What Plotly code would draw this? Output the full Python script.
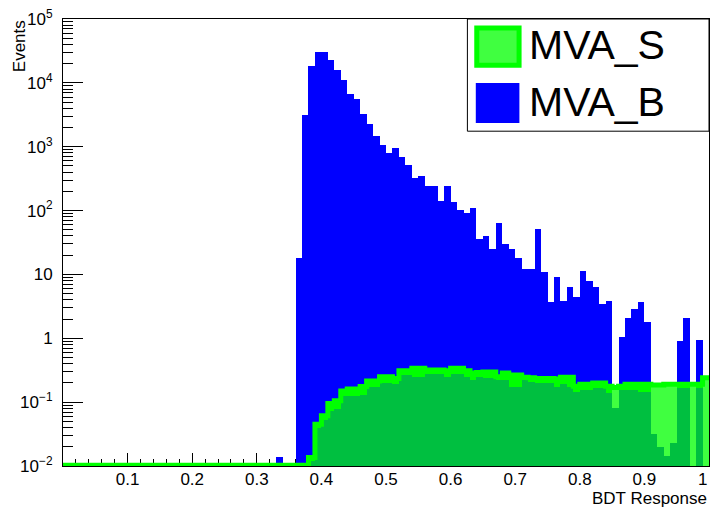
import numpy as np
import plotly.graph_objects as go

# 100 bins of BDT response on [0, 1]
edges = np.linspace(0.0, 1.0, 101)
centers = 0.5 * (edges[:-1] + edges[1:])

# Background (MVA_B) bin contents
bkg = [0.0] * 33 + [
    0.014, 0.0, 0.0, 17.8, 3100, 18200, 30500, 30500, 23200, 16100,
    11000, 6800, 5500, 3230, 2310, 1480, 1070, 790, 940, 690,
    510, 320, 350, 240, 240, 140, 244, 134, 101, 93,
    108, 36, 40, 24.6, 63, 30.5, 24.6, 17.8, 12.0, 12.2,
    51, 10.9, 3.65, 9.2, 3.8, 6.3, 4.5, 11.4, 7.9, 6.4,
    3.5, 3.9, 0.08, 1.05, 2.1, 2.9, 3.7, 1.8, 0.032, 0.02,
    0.0143, 0.0226, 0.9, 2.05, 0.0, 0.94, 0.0,
]

# Signal (MVA_S) bin contents
sig = [0.0] * 38 + [
    0.0136, 0.045, 0.061, 0.095, 0.105, 0.15, 0.16, 0.16, 0.175, 0.215,
    0.215, 0.25, 0.25, 0.235, 0.31, 0.31, 0.34, 0.34, 0.32, 0.32,
    0.32, 0.31, 0.34, 0.34, 0.31, 0.285, 0.29, 0.296, 0.296, 0.25,
    0.285, 0.265, 0.265, 0.245, 0.24, 0.235, 0.235, 0.235, 0.23, 0.245,
    0.245, 0.178, 0.19, 0.19, 0.2, 0.2, 0.178, 0.17, 0.178, 0.19,
    0.19, 0.19, 0.19, 0.185, 0.185, 0.19, 0.19, 0.19, 0.19, 0.19,
    0.19, 0.24,
]

# Inner signal fill level
sig_core = [0.0] * 38 + [
    0.012, 0.039, 0.0525, 0.072, 0.078, 0.123, 0.123, 0.123, 0.13, 0.17,
    0.17, 0.2, 0.2, 0.19, 0.265, 0.265, 0.25, 0.25, 0.275, 0.275,
    0.275, 0.25, 0.275, 0.275, 0.25, 0.222, 0.25, 0.236, 0.236, 0.222,
    0.226, 0.171, 0.171, 0.222, 0.209, 0.197, 0.197, 0.197, 0.171, 0.19,
    0.17, 0.146, 0.155, 0.155, 0.166, 0.166, 0.137, 0.17, 0.155, 0.155,
    0.155, 0.146, 0.146, 0.185, 0.185, 0.19, 0.19, 0.166, 0.166, 0.19,
    0.166, 0.24,
]

bkg = np.array(bkg)
sig = np.array(sig)
sig_core = np.array(sig_core)
y_min = 1e-2

BLUE = "#0000ff"
BRIGHT = "#00ff00"
LIGHT = "#40ff40"
DARK = "#00bf40"

fig = go.Figure()

fig.add_trace(go.Bar(
    x=centers, y=bkg, width=0.01, marker=dict(color=BLUE, line=dict(width=0)),
    name="MVA_B", showlegend=False,
))

sig_colors = [BRIGHT if b >= s else LIGHT for b, s in zip(bkg, sig)]
fig.add_trace(go.Bar(
    x=centers, y=sig, width=0.01, marker=dict(color=sig_colors, line=dict(width=0)),
    name="MVA_S", showlegend=False,
))

fig.add_trace(go.Bar(
    x=centers, y=np.minimum(bkg, sig_core), width=0.01,
    marker=dict(color=DARK, line=dict(width=0)), showlegend=False,
))

# Signal outline drawn as a step line, empty bins sit on the axis floor
step_y = np.maximum(np.append(sig, sig[-1]), y_min * 1.03)
fig.add_trace(go.Scatter(
    x=edges, y=step_y, mode="lines", line=dict(color=BRIGHT, width=5, shape="hv"),
    showlegend=False, hoverinfo="skip",
))

font_family = "Liberation Sans, Arial, sans-serif"

decades = list(range(-2, 6))
y_ticktext = ["10<sup>−2</sup>", "10<sup>−1</sup>", "1", "10",
              "10<sup>2</sup>", "10<sup>3</sup>", "10<sup>4</sup>", "10<sup>5</sup>"]
y_minor = [k * 10.0 ** d for d in range(-2, 5) for k in range(2, 10)]

x_tickvals = [0.1, 0.2, 0.3, 0.4, 0.5, 0.6, 0.7, 0.8, 0.9, 1.0]
x_ticktext = ["0.1", "0.2", "0.3", "0.4", "0.5", "0.6", "0.7", "0.8", "0.9", "1"]

fig.update_layout(
    width=712, height=507,
    margin=dict(l=63, r=3, t=19, b=41),
    paper_bgcolor="white", plot_bgcolor="white",
    barmode="overlay", bargap=0,
    showlegend=False,
    font=dict(family=font_family, size=17, color="black"),
    xaxis=dict(
        range=[0, 1], tickvals=x_tickvals, ticktext=x_ticktext,
        ticks="inside", ticklen=13, tickcolor="black", tickwidth=1,
        minor=dict(dtick=0.02, tick0=0, ticks="inside", ticklen=7, tickcolor="black"),
        showline=True, mirror=True, linecolor="black", linewidth=1,
        showgrid=False, zeroline=False, layer="below traces",
        tickfont=dict(size=17), ticklabelstandoff=-2, automargin=False,
    ),
    yaxis=dict(
        type="log", range=[-2, 5],
        tickvals=[10.0 ** d for d in decades], ticktext=y_ticktext,
        ticks="inside", ticklen=20, tickcolor="black", tickwidth=1,
        minor=dict(tickvals=y_minor, ticks="inside", ticklen=10, tickcolor="black"),
        showline=True, mirror=True, linecolor="black", linewidth=1,
        showgrid=False, zeroline=False, layer="below traces",
        tickfont=dict(size=17), ticklabelstandoff=6, automargin=False,
    ),
)

# Label for the last x tick, kept flush with the right frame edge
fig.add_annotation(
    text=x_ticktext[-1], xref="x", yref="paper", x=x_tickvals[-1], y=-0.0313,
    xanchor="right", yanchor="middle", showarrow=False, font=dict(size=17),
)

# Axis titles
fig.add_annotation(
    text="BDT Response", xref="paper", yref="paper", x=1.0, y=-0.072,
    xanchor="right", yanchor="middle", showarrow=False, font=dict(size=17),
)
fig.add_annotation(
    text="Events", xref="paper", yref="paper", x=-0.068, y=1.002,
    xanchor="center", yanchor="top", textangle=-90, showarrow=False, font=dict(size=17),
)

# Legend box
fig.add_shape(type="rect", xref="paper", yref="paper", x0=0.626, x1=1.0, y0=0.749, y1=1.0,
              line=dict(color="black", width=1), fillcolor="white", layer="above")
fig.add_shape(type="rect", xref="paper", yref="paper", x0=0.6405, x1=0.706, y0=0.8965, y1=0.98,
              line=dict(color=BRIGHT, width=5), fillcolor=LIGHT, layer="above")
fig.add_shape(type="rect", xref="paper", yref="paper", x0=0.639, x1=0.7065, y0=0.7673, y1=0.8568,
              line=dict(width=0), fillcolor=BLUE, layer="above")
fig.add_annotation(text="MVA_S", xref="paper", yref="paper", x=0.718, y=0.9418,
                   xanchor="left", yanchor="middle", showarrow=False, font=dict(size=41))
fig.add_annotation(text="MVA_B", xref="paper", yref="paper", x=0.718, y=0.8132,
                   xanchor="left", yanchor="middle", showarrow=False, font=dict(size=41))

fig.write_html("out.html")
